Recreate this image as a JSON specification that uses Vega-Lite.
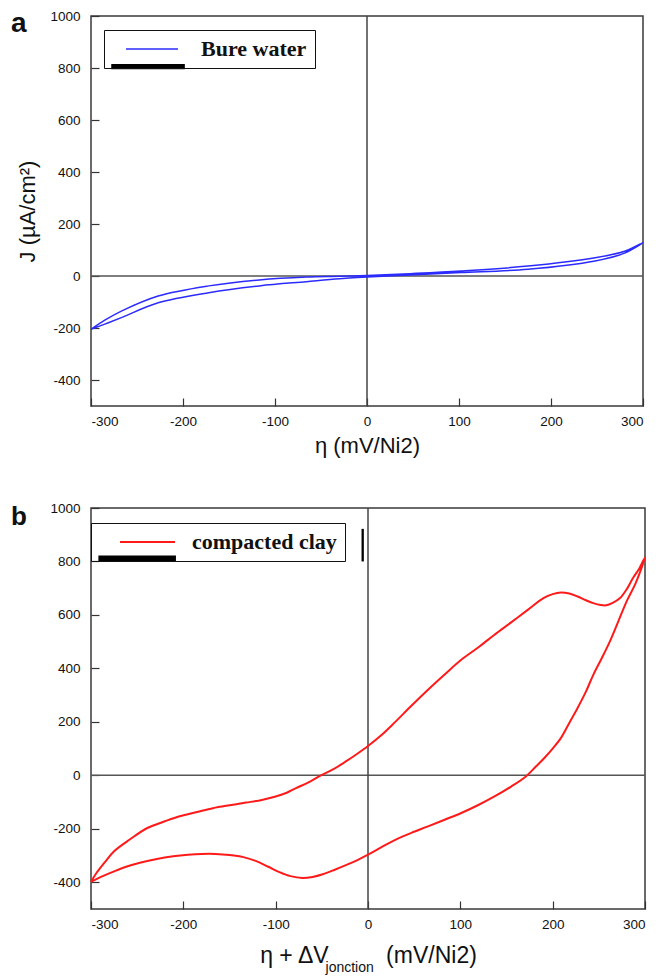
{
  "$schema": "https://vega.github.io/schema/vega-lite/v6.json",
  "padding": {"left": 10, "top": 8, "right": 20, "bottom": 0},
  "spacing": 42,
  "background": "white",
  "config": {
    "font": "Liberation Sans",
    "view": {"stroke": "#3a3a3a", "strokeWidth": 1.5},
    "axis": {"grid": false, "domain": false, "tickSize": -8, "tickColor": "#333", "tickWidth": 1.2, "zindex": 1,
             "labelFont": "Liberation Sans", "labelFontSize": 13.5, "labelColor": "#111",
             "labelExpr": "datum.value < 0 ? '-' + (-datum.value) : '' + datum.value",
             "titleFont": "Liberation Sans", "titleFontSize": 22, "titleFontWeight": "normal", "titleColor": "#111"},
    "axisX": {"labelPadding": 16, "titlePadding": 8},
    "axisY": {"labelPadding": 19, "titlePadding": 10},
    "legend": {"orient": "none", "fillColor": null, "strokeColor": "#111", "padding": 8,
               "symbolSize": 4, "symbolStrokeWidth": 1.5, "labelLimit": 400,
               "labelFont": "Liberation Serif", "labelFontWeight": "bold", "labelFontSize": 22,
               "labelColor": "#111", "title": null,
               "labelExpr": "datum.label == 'Bure water' ? datum.label + '\u00a0\u00a0\u200b' : datum.label + '\u00a0\u00a0\u00a0\u00a0\u200b'"}
  },
  "resolve": {"scale": {"color": "independent"}, "legend": {"color": "independent"}},
  "datasets": {
    "water": [
      {"i": 0, "eta": -300, "J": -205, "series": "Bure water"},
      {"i": 1, "eta": -285, "J": -170, "series": "Bure water"},
      {"i": 2, "eta": -267, "J": -135, "series": "Bure water"},
      {"i": 3, "eta": -227, "J": -77, "series": "Bure water"},
      {"i": 4, "eta": -172, "J": -38, "series": "Bure water"},
      {"i": 5, "eta": -117, "J": -15, "series": "Bure water"},
      {"i": 6, "eta": -66, "J": -4, "series": "Bure water"},
      {"i": 7, "eta": -30, "J": -1, "series": "Bure water"},
      {"i": 8, "eta": 0, "J": 2, "series": "Bure water"},
      {"i": 9, "eta": 47, "J": 9, "series": "Bure water"},
      {"i": 10, "eta": 102, "J": 19, "series": "Bure water"},
      {"i": 11, "eta": 175, "J": 38, "series": "Bure water"},
      {"i": 12, "eta": 248, "J": 70, "series": "Bure water"},
      {"i": 13, "eta": 280, "J": 95, "series": "Bure water"},
      {"i": 14, "eta": 300, "J": 128, "series": "Bure water"},
      {"i": 15, "eta": 280, "J": 88, "series": "Bure water"},
      {"i": 16, "eta": 248, "J": 58, "series": "Bure water"},
      {"i": 17, "eta": 175, "J": 26, "series": "Bure water"},
      {"i": 18, "eta": 102, "J": 13, "series": "Bure water"},
      {"i": 19, "eta": 47, "J": 4, "series": "Bure water"},
      {"i": 20, "eta": 0, "J": -4, "series": "Bure water"},
      {"i": 21, "eta": -30, "J": -11, "series": "Bure water"},
      {"i": 22, "eta": -66, "J": -22, "series": "Bure water"},
      {"i": 23, "eta": -117, "J": -38, "series": "Bure water"},
      {"i": 24, "eta": -172, "J": -64, "series": "Bure water"},
      {"i": 25, "eta": -227, "J": -103, "series": "Bure water"},
      {"i": 26, "eta": -267, "J": -160, "series": "Bure water"},
      {"i": 27, "eta": -285, "J": -185, "series": "Bure water"},
      {"i": 28, "eta": -300, "J": -205, "series": "Bure water"}
    ],
    "clay": [
      {"i": 0, "eta": -300, "J": -398, "series": "compacted clay"},
      {"i": 1, "eta": -295, "J": -370, "series": "compacted clay"},
      {"i": 2, "eta": -285, "J": -325, "series": "compacted clay"},
      {"i": 3, "eta": -275, "J": -284, "series": "compacted clay"},
      {"i": 4, "eta": -258, "J": -240, "series": "compacted clay"},
      {"i": 5, "eta": -239, "J": -197, "series": "compacted clay"},
      {"i": 6, "eta": -220, "J": -172, "series": "compacted clay"},
      {"i": 7, "eta": -204, "J": -153, "series": "compacted clay"},
      {"i": 8, "eta": -185, "J": -137, "series": "compacted clay"},
      {"i": 9, "eta": -168, "J": -123, "series": "compacted clay"},
      {"i": 10, "eta": -150, "J": -112, "series": "compacted clay"},
      {"i": 11, "eta": -132, "J": -102, "series": "compacted clay"},
      {"i": 12, "eta": -115, "J": -92, "series": "compacted clay"},
      {"i": 13, "eta": -100, "J": -79, "series": "compacted clay"},
      {"i": 14, "eta": -88, "J": -65, "series": "compacted clay"},
      {"i": 15, "eta": -78, "J": -48, "series": "compacted clay"},
      {"i": 16, "eta": -65, "J": -27, "series": "compacted clay"},
      {"i": 17, "eta": -53, "J": -4, "series": "compacted clay"},
      {"i": 18, "eta": -38, "J": 22, "series": "compacted clay"},
      {"i": 19, "eta": -24, "J": 52, "series": "compacted clay"},
      {"i": 20, "eta": -12, "J": 80, "series": "compacted clay"},
      {"i": 21, "eta": 0, "J": 110, "series": "compacted clay"},
      {"i": 22, "eta": 15, "J": 152, "series": "compacted clay"},
      {"i": 23, "eta": 29, "J": 198, "series": "compacted clay"},
      {"i": 24, "eta": 47, "J": 260, "series": "compacted clay"},
      {"i": 25, "eta": 65, "J": 320, "series": "compacted clay"},
      {"i": 26, "eta": 83, "J": 377, "series": "compacted clay"},
      {"i": 27, "eta": 101, "J": 432, "series": "compacted clay"},
      {"i": 28, "eta": 120, "J": 480, "series": "compacted clay"},
      {"i": 29, "eta": 137, "J": 526, "series": "compacted clay"},
      {"i": 30, "eta": 155, "J": 572, "series": "compacted clay"},
      {"i": 31, "eta": 173, "J": 619, "series": "compacted clay"},
      {"i": 32, "eta": 190, "J": 663, "series": "compacted clay"},
      {"i": 33, "eta": 200, "J": 678, "series": "compacted clay"},
      {"i": 34, "eta": 209, "J": 684, "series": "compacted clay"},
      {"i": 35, "eta": 218, "J": 680, "series": "compacted clay"},
      {"i": 36, "eta": 227, "J": 669, "series": "compacted clay"},
      {"i": 37, "eta": 236, "J": 655, "series": "compacted clay"},
      {"i": 38, "eta": 244, "J": 644, "series": "compacted clay"},
      {"i": 39, "eta": 252, "J": 637, "series": "compacted clay"},
      {"i": 40, "eta": 258, "J": 636, "series": "compacted clay"},
      {"i": 41, "eta": 265, "J": 645, "series": "compacted clay"},
      {"i": 42, "eta": 273, "J": 663, "series": "compacted clay"},
      {"i": 43, "eta": 280, "J": 695, "series": "compacted clay"},
      {"i": 44, "eta": 287, "J": 738, "series": "compacted clay"},
      {"i": 45, "eta": 294, "J": 775, "series": "compacted clay"},
      {"i": 46, "eta": 300, "J": 815, "series": "compacted clay"},
      {"i": 47, "eta": 290, "J": 720, "series": "compacted clay"},
      {"i": 48, "eta": 280, "J": 650, "series": "compacted clay"},
      {"i": 49, "eta": 271, "J": 575, "series": "compacted clay"},
      {"i": 50, "eta": 262, "J": 501, "series": "compacted clay"},
      {"i": 51, "eta": 253, "J": 437, "series": "compacted clay"},
      {"i": 52, "eta": 244, "J": 376, "series": "compacted clay"},
      {"i": 53, "eta": 236, "J": 313, "series": "compacted clay"},
      {"i": 54, "eta": 227, "J": 252, "series": "compacted clay"},
      {"i": 55, "eta": 218, "J": 196, "series": "compacted clay"},
      {"i": 56, "eta": 209, "J": 140, "series": "compacted clay"},
      {"i": 57, "eta": 200, "J": 100, "series": "compacted clay"},
      {"i": 58, "eta": 191, "J": 65, "series": "compacted clay"},
      {"i": 59, "eta": 181, "J": 30, "series": "compacted clay"},
      {"i": 60, "eta": 171, "J": -4, "series": "compacted clay"},
      {"i": 61, "eta": 155, "J": -42, "series": "compacted clay"},
      {"i": 62, "eta": 137, "J": -79, "series": "compacted clay"},
      {"i": 63, "eta": 120, "J": -110, "series": "compacted clay"},
      {"i": 64, "eta": 101, "J": -141, "series": "compacted clay"},
      {"i": 65, "eta": 83, "J": -166, "series": "compacted clay"},
      {"i": 66, "eta": 65, "J": -191, "series": "compacted clay"},
      {"i": 67, "eta": 47, "J": -215, "series": "compacted clay"},
      {"i": 68, "eta": 29, "J": -242, "series": "compacted clay"},
      {"i": 69, "eta": 15, "J": -268, "series": "compacted clay"},
      {"i": 70, "eta": 0, "J": -297, "series": "compacted clay"},
      {"i": 71, "eta": -12, "J": -318, "series": "compacted clay"},
      {"i": 72, "eta": -24, "J": -336, "series": "compacted clay"},
      {"i": 73, "eta": -36, "J": -353, "series": "compacted clay"},
      {"i": 74, "eta": -49, "J": -370, "series": "compacted clay"},
      {"i": 75, "eta": -60, "J": -380, "series": "compacted clay"},
      {"i": 76, "eta": -71, "J": -384, "series": "compacted clay"},
      {"i": 77, "eta": -84, "J": -377, "series": "compacted clay"},
      {"i": 78, "eta": -96, "J": -362, "series": "compacted clay"},
      {"i": 79, "eta": -108, "J": -342, "series": "compacted clay"},
      {"i": 80, "eta": -121, "J": -321, "series": "compacted clay"},
      {"i": 81, "eta": -135, "J": -306, "series": "compacted clay"},
      {"i": 82, "eta": -150, "J": -298, "series": "compacted clay"},
      {"i": 83, "eta": -165, "J": -294, "series": "compacted clay"},
      {"i": 84, "eta": -180, "J": -294, "series": "compacted clay"},
      {"i": 85, "eta": -195, "J": -297, "series": "compacted clay"},
      {"i": 86, "eta": -211, "J": -303, "series": "compacted clay"},
      {"i": 87, "eta": -230, "J": -314, "series": "compacted clay"},
      {"i": 88, "eta": -247, "J": -327, "series": "compacted clay"},
      {"i": 89, "eta": -262, "J": -342, "series": "compacted clay"},
      {"i": 90, "eta": -275, "J": -359, "series": "compacted clay"},
      {"i": 91, "eta": -288, "J": -378, "series": "compacted clay"},
      {"i": 92, "eta": -300, "J": -398, "series": "compacted clay"}
    ]
  },
  "vconcat": [
    {
      "width": 552,
      "height": 390,
      "title": {"text": "a", "anchor": "start", "frame": "bounds", "orient": "top", "baseline": "top",
                "offset": -29, "dx": -6, "fontSize": 28, "fontWeight": "bold", "font": "Liberation Sans", "color": "#111"},
      "layer": [
        {
          "data": {"values": [{}]},
          "mark": {"type": "rule", "color": "#555", "strokeWidth": 1.5},
          "encoding": {"y": {"datum": 0, "type": "quantitative"}}
        },
        {
          "data": {"values": [{}]},
          "mark": {"type": "rule", "color": "#444", "strokeWidth": 1.5},
          "encoding": {"x": {"datum": 0, "type": "quantitative"}}
        },
        {
          "data": {"values": [{}]},
          "mark": {"type": "rect", "color": "#000"},
          "encoding": {"x": {"datum": -278, "type": "quantitative"}, "x2": {"datum": -198},
                       "y": {"datum": 815, "type": "quantitative"}, "y2": {"datum": 795}}
        },
        {
          "data": {"name": "water"},
          "mark": {"type": "line", "strokeWidth": 1.5, "interpolate": "catmull-rom"},
          "encoding": {
            "x": {"field": "eta", "type": "quantitative",
                  "scale": {"domain": [-300, 300], "nice": false, "zero": false},
                  "axis": {"values": [-300, -200, -100, 0, 100, 200, 300], "title": "η (mV/Ni2)"}},
            "y": {"field": "J", "type": "quantitative",
                  "scale": {"domain": [-500, 1000], "nice": false},
                  "axis": {"values": [-400, -200, 0, 200, 400, 600, 800, 1000], "title": "J (µA/cm²)"}},
            "order": {"field": "i", "type": "quantitative"},
            "color": {"field": "series", "type": "nominal", "scale": {"range": ["#2b2bff"]},
                      "legend": {"legendX": 13, "legendY": 14, "symbolType": "M3,0H55", "labelOffset": 67}}
          }
        }
      ]
    },
    {
      "width": 554,
      "height": 401,
      "title": {"text": "b", "anchor": "start", "frame": "bounds", "orient": "top", "baseline": "top",
                "offset": -29, "dx": -6, "fontSize": 26, "fontWeight": "bold", "font": "Liberation Sans", "color": "#111"},
      "layer": [
        {
          "data": {"values": [{}]},
          "mark": {"type": "rule", "color": "#555", "strokeWidth": 1.5},
          "encoding": {"y": {"datum": 0, "type": "quantitative"}}
        },
        {
          "data": {"values": [{}]},
          "mark": {"type": "rule", "color": "#444", "strokeWidth": 1.5},
          "encoding": {"x": {"datum": 0, "type": "quantitative"}}
        },
        {
          "data": {"values": [{}]},
          "mark": {"type": "rect", "color": "#000"},
          "encoding": {"x": {"datum": -292, "type": "quantitative"}, "x2": {"datum": -208},
                       "y": {"datum": 822, "type": "quantitative"}, "y2": {"datum": 800}}
        },
        {
          "data": {"values": [{}]},
          "mark": {"type": "rect", "color": "#000"},
          "encoding": {"x": {"datum": -7, "type": "quantitative"}, "x2": {"datum": -4.5},
                       "y": {"datum": 922, "type": "quantitative"}, "y2": {"datum": 800}}
        },
        {
          "data": {"name": "clay"},
          "mark": {"type": "line", "strokeWidth": 2, "interpolate": "catmull-rom"},
          "encoding": {
            "x": {"field": "eta", "type": "quantitative",
                  "scale": {"domain": [-300, 300], "nice": false, "zero": false},
                  "axis": {"values": [-300, -200, -100, 0, 100, 200, 300], "titleFontSize": 23, "titlePadding": 14,
                           "title": "η + ΔV\u00a0\u00a0\u00a0\u00a0\u00a0\u00a0\u00a0\u00a0\u00a0(mV/Ni2)"}},
            "y": {"field": "J", "type": "quantitative",
                  "scale": {"domain": [-500, 1000], "nice": false},
                  "axis": {"values": [-400, -200, 0, 200, 400, 600, 800, 1000], "title": "J (µA/cm²)", "titleOpacity": 0}},
            "order": {"field": "i", "type": "quantitative"},
            "color": {"field": "series", "type": "nominal", "scale": {"range": ["#ff1a1a"]},
                      "legend": {"legendX": 0, "legendY": 15, "symbolType": "M10,0H65", "labelOffset": 71, "symbolStrokeWidth": 2}}
          }
        },
        {
          "data": {"values": [{}]},
          "mark": {"type": "text", "text": "jonction", "font": "Liberation Sans", "fontSize": 14, "color": "#111",
                   "align": "left", "baseline": "middle", "dy": 59},
          "encoding": {"x": {"datum": -46, "type": "quantitative"}, "y": {"datum": -500, "type": "quantitative"}}
        }
      ]
    }
  ]
}
